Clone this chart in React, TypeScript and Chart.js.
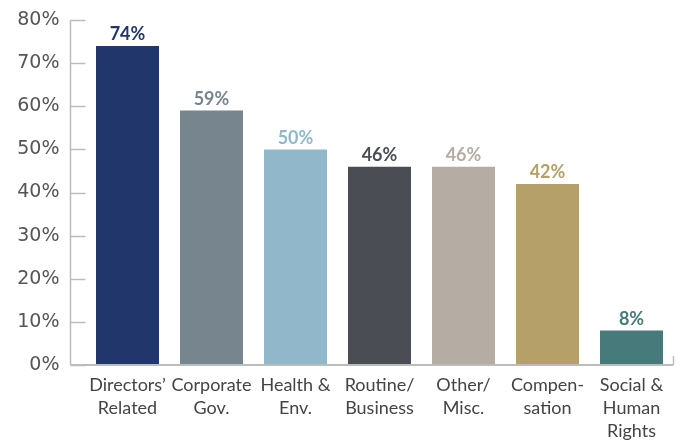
import React, { useEffect, useRef } from "react";
import { Chart, registerables } from "chart.js";

Chart.register(...registerables);

const categories: string[][] = [
  ["Directors’", "Related"],
  ["Corporate", "Gov."],
  ["Health &", "Env."],
  ["Routine/", "Business"],
  ["Other/", "Misc."],
  ["Compen-", "sation"],
  ["Social &", "Human", "Rights"],
];
const values: number[] = [74, 59, 50, 46, 46, 42, 8];
const barColors: string[] = ["#21366b", "#77858f", "#90b8ca", "#4a4e54", "#b5ada4", "#b4a068", "#477a7a"];
const yTicks: number[] = [0, 10, 20, 30, 40, 50, 60, 70, 80];

const AXIS_GAP = 15;

const decorPlugin = {
  id: "decor",
  afterDraw(chart: any) {
    const ctx = chart.ctx;
    const area = chart.chartArea;
    const y = chart.scales.y;
    const axX = area.left - AXIS_GAP;
    ctx.save();
    ctx.strokeStyle = "#bcbcbc";
    ctx.lineWidth = 1.5;
    ctx.beginPath();
    ctx.moveTo(axX, y.getPixelForValue(80));
    ctx.lineTo(axX, area.bottom);
    ctx.stroke();
    for (const t of yTicks) {
      const py = Math.round(y.getPixelForValue(t)) + 0.5;
      ctx.beginPath();
      ctx.moveTo(axX, py);
      ctx.lineTo(area.left, py);
      ctx.stroke();
    }
    ctx.lineWidth = 2;
    ctx.beginPath();
    ctx.moveTo(axX, area.bottom);
    ctx.lineTo(area.right, area.bottom);
    ctx.stroke();
    ctx.lineWidth = 1.5;
    ctx.beginPath();
    ctx.moveTo(area.right, area.bottom);
    ctx.lineTo(area.right, area.bottom - 9);
    ctx.stroke();
    ctx.restore();
  },
  afterDatasetsDraw(chart: any) {
    const ctx = chart.ctx;
    const meta = chart.getDatasetMeta(0);
    ctx.save();
    ctx.font = "bold 18px Lato, sans-serif";
    ctx.textAlign = "center";
    ctx.textBaseline = "alphabetic";
    meta.data.forEach((el: any, i: number) => {
      ctx.fillStyle = barColors[i];
      ctx.fillText(values[i] + "%", el.x, el.y - 5.5);
    });
    ctx.restore();
  },
};

export default function App() {
  const ref = useRef<HTMLCanvasElement>(null);
  useEffect(() => {
    if (!ref.current) return;
    const chart = new Chart(ref.current, {
      type: "bar",
      data: {
        labels: categories,
        datasets: [
          {
            data: values,
            backgroundColor: barColors,
            categoryPercentage: 1,
            barPercentage: 0.75,
          },
        ],
      },
      options: {
        responsive: false,
        animation: false,
        layout: { padding: { top: 20, right: 7.5, left: 0, bottom: 0 } },
        plugins: { legend: { display: false }, tooltip: { enabled: false } },
        scales: {
          x: {
            grid: { display: false, drawTicks: false },
            border: { display: false },
            ticks: {
              color: "#444",
              font: { family: "Lato, sans-serif", size: 18, lineHeight: 1.28 },
              padding: 9,
              maxRotation: 0,
              autoSkip: false,
            },
            afterFit: (s: any) => {
              s.height = 76;
            },
          },
          y: {
            min: 0,
            max: 80,
            grid: { display: false, drawTicks: false },
            border: { display: false },
            ticks: {
              stepSize: 10,
              color: "#555",
              font: { family: "'DejaVu Sans', sans-serif", size: 19 },
              padding: 26,
              callback: (v: any) => v + "%",
            },
            afterFit: (s: any) => {
              s.width = 85.5;
              s.paddingTop = 0;
              s.paddingBottom = 0;
            },
          },
        },
      },
      plugins: [decorPlugin],
    });
    return () => chart.destroy();
  }, []);
  return (
    <div style={{ position: "fixed", left: 0, top: 0, width: 681, height: 441, background: "#fff" }}>
      <canvas ref={ref} width={681} height={441} />
    </div>
  );
}
